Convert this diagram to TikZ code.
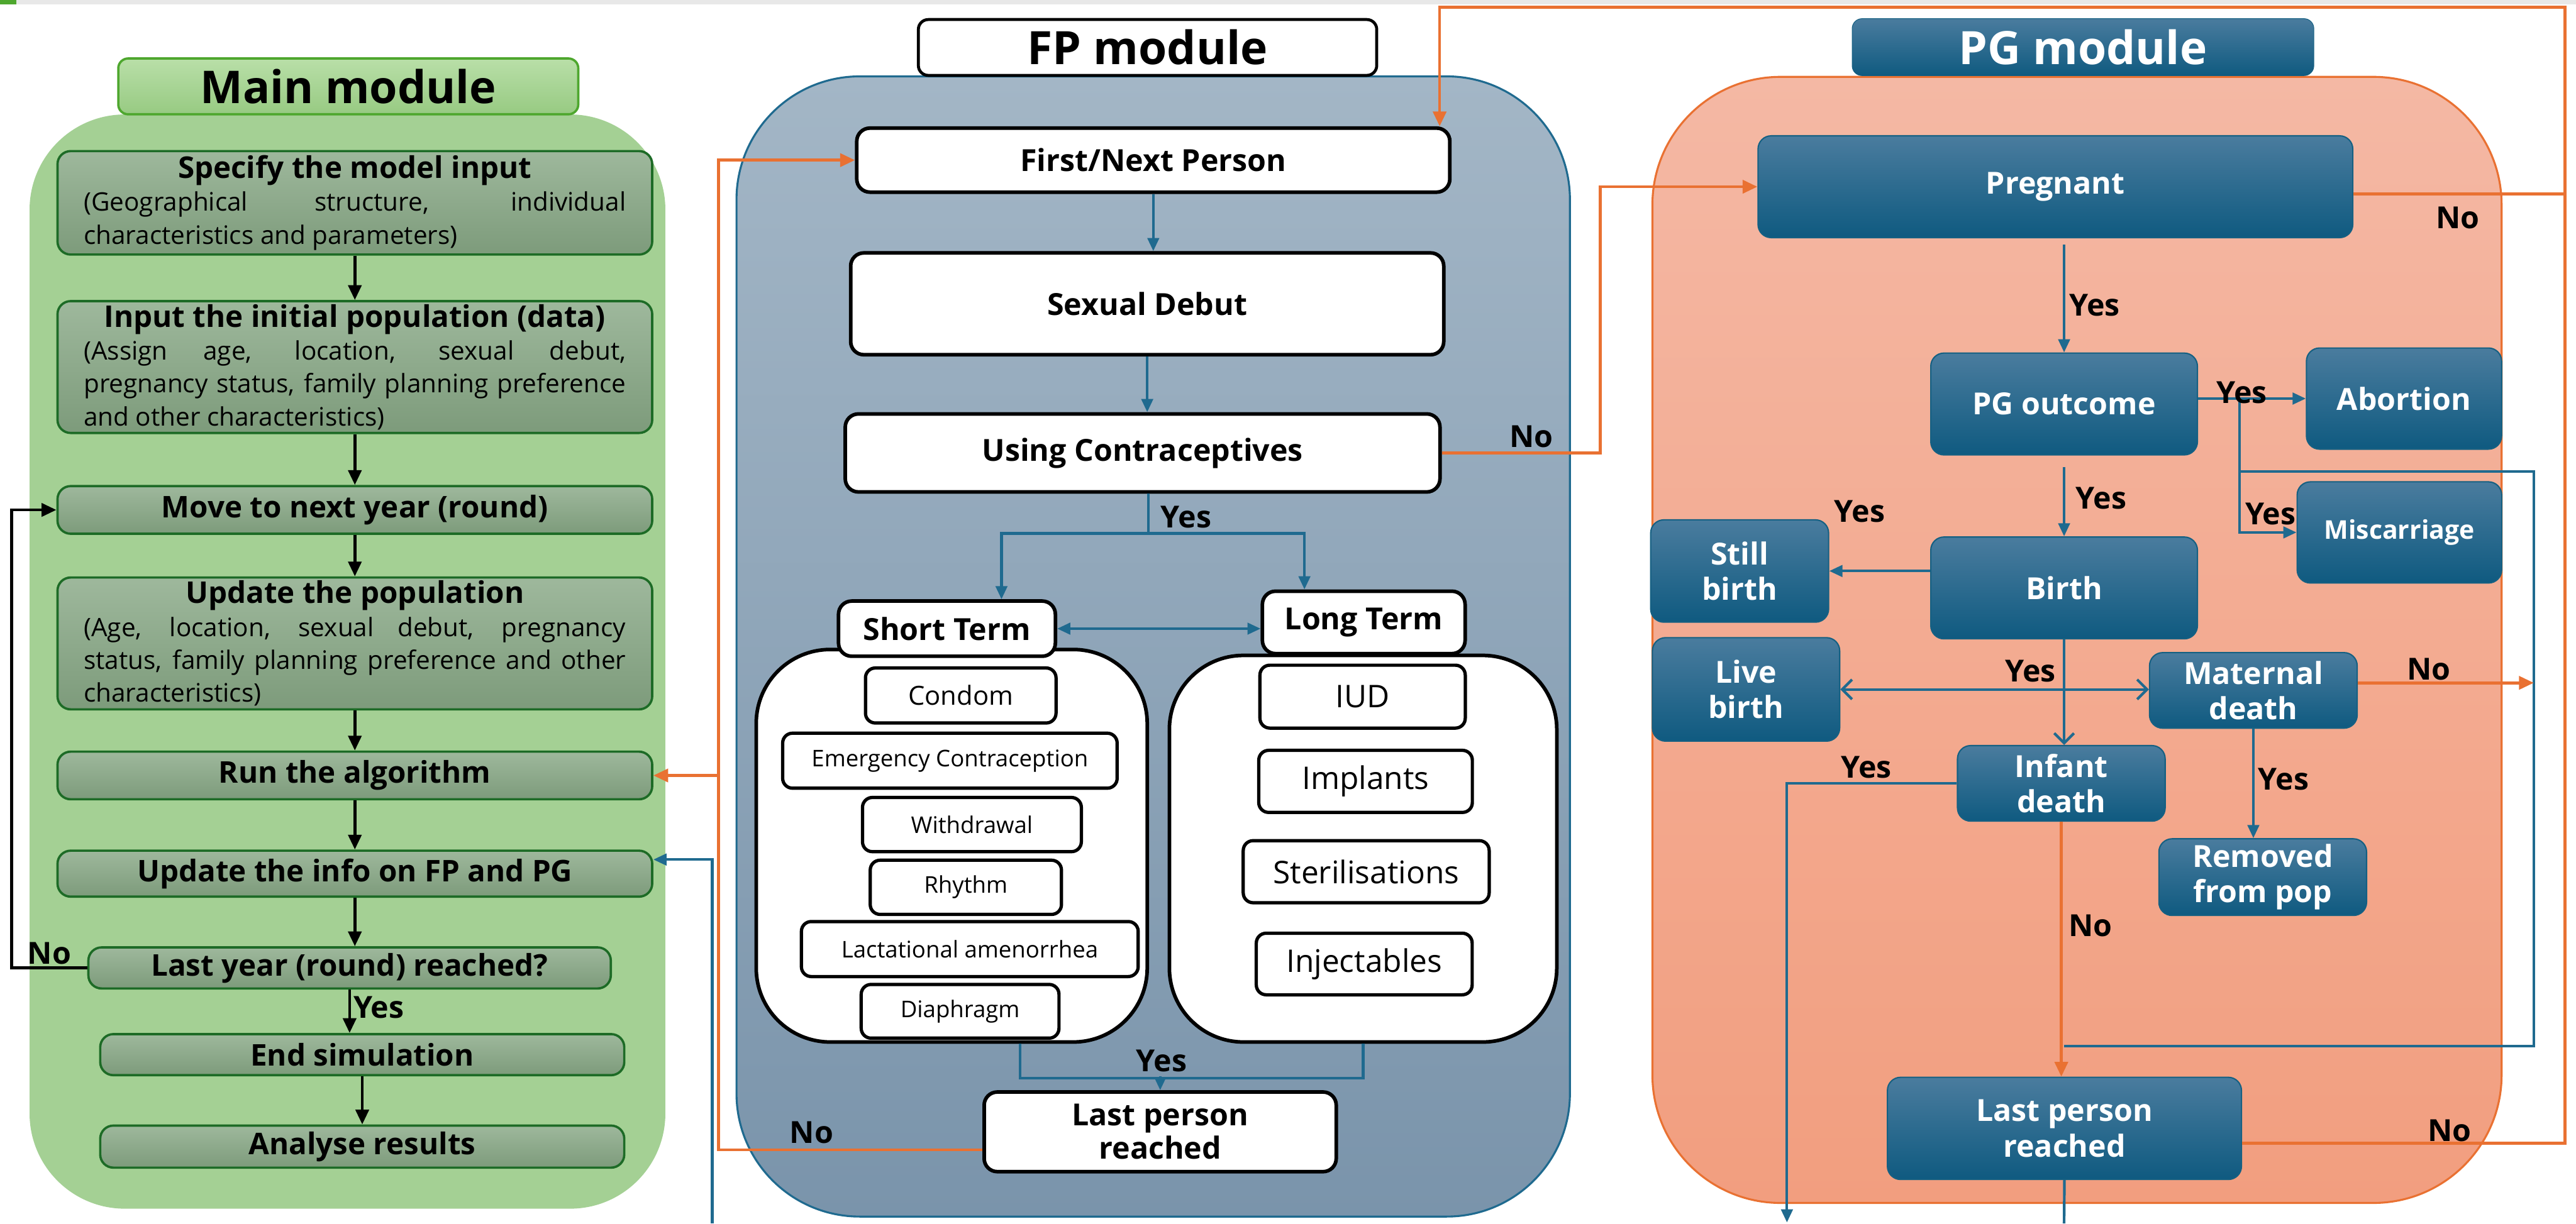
\documentclass[tikz,border=0pt]{standalone}
\usepackage{fontspec}
\setmainfont{Open Sans}
\usetikzlibrary{arrows.meta}

\definecolor{mainfill}{HTML}{A4D094}
\definecolor{mtitletop}{HTML}{B9DFA8}
\definecolor{mtitlebot}{HTML}{97CA82}
\definecolor{mainedge}{HTML}{4EA72E}
\definecolor{boxtop}{HTML}{9EB89C}
\definecolor{boxbot}{HTML}{7D9B7B}
\definecolor{boxedge}{HTML}{1D6B26}
\definecolor{fptop}{HTML}{A3B6C6}
\definecolor{fpbot}{HTML}{7A94AB}
\definecolor{pgblue}{HTML}{156082}
\definecolor{pgbluetop}{HTML}{4A7C9E}
\definecolor{pgbluebot}{HTML}{0F5A80}
\definecolor{pgtop}{HTML}{F4B8A4}
\definecolor{pgbot}{HTML}{F29E7F}
\definecolor{orng}{HTML}{E97132}
\definecolor{blline}{HTML}{1F6A8F}

\newcommand{\headfnt}{\fontsize{18.2}{20}\selectfont\bfseries}
\newcommand{\bodyfnt}{\fontsize{15.5}{18}\selectfont\mdseries}

\begin{document}
\begin{tikzpicture}[x=1pt, y=-1pt,
  mtitlebox/.style={draw=mainedge, line width=1.4pt, rounded corners=6pt, top color=mtitletop, bottom color=mtitlebot, minimum width=280pt, minimum height=34pt, font=\fontsize{27.5}{30}\selectfont\bfseries},
  mainbox/.style={draw=boxedge, line width=1.4pt, rounded corners=8pt, top color=boxtop, bottom color=boxbot, minimum width=362pt, inner sep=2pt, font=\headfnt},
  mainpara/.style={mainbox, text width=330pt, inner xsep=16pt, align=justify},
  fptitlebox/.style={draw=black, fill=white, line width=1.8pt, rounded corners=6pt, minimum width=279pt, minimum height=34pt, font=\fontsize{28}{30}\selectfont\bfseries},
  fpbox/.style={draw=black, fill=white, line width=2.2pt, rounded corners=8pt, font=\fontsize{18.5}{20.3}\selectfont\bfseries, align=center},
  grpbox/.style={draw=black, fill=white, line width=2.2pt, rounded corners=45pt},
  itembox/.style={draw=black, fill=white, line width=2pt, rounded corners=6pt, font=\fontsize{14}{16}\selectfont},
  pgtitlebox/.style={draw=pgblue, top color=pgbluetop, bottom color=pgbluebot, rounded corners=6pt, minimum width=281pt, minimum height=34.7pt, text=white, font=\fontsize{28}{30}\selectfont\bfseries},
  pgbox/.style={draw=pgblue, line width=0.8pt, top color=pgbluetop, bottom color=pgbluebot, rounded corners=8pt, text=white, font=\fontsize{18.5}{21.5}\selectfont\bfseries, align=center},
  lbl/.style={font=\fontsize{18.5}{20}\selectfont\bfseries, inner sep=0pt},
  blkarrow/.style={draw=black, line width=1.8pt, -{Triangle[length=9pt,width=8pt]}},
  bluline/.style={draw=blline, line width=1.6pt},
  bluarrow/.style={bluline, -{Triangle[length=8pt,width=7pt]}},
  bluboth/.style={bluline, {Triangle[length=8pt,width=7pt]}-{Triangle[length=8pt,width=7pt]}},
  openarrow/.style={bluline, -{Straight Barb[length=6pt,width=12pt]}},
  openboth/.style={bluline, {Straight Barb[length=6pt,width=12pt]}-{Straight Barb[length=6pt,width=12pt]}},
  orpath/.style={draw=orng, line width=1.8pt},
  orarrow/.style={orpath, -{Triangle[length=9pt,width=8pt]}}]
\useasboundingbox (0,0) rectangle (1568,745);
\fill[gray!18] (0,0) rectangle (1568,2.6);
\fill[mainedge] (0,0) rectangle (10,2.6);

% Main module
\fill[mainfill, rounded corners=58pt] (18,69.7) rectangle (405,736);
\node[mtitlebox] (mtitle) at (212,52.6) {Main module};
\node[mainpara, minimum height=63pt] (spec) at (216,123.5) {{\centering\headfnt Specify the model input\par}\bodyfnt (Geographical structure, individual\linebreak characteristics and parameters)};
\node[mainpara, minimum height=77pt] (init) at (216,223.5) {{\centering\headfnt Input the initial population (data)\par}\bodyfnt (Assign age, location, sexual debut,\linebreak pregnancy status, family planning preference\linebreak and other characteristics)};
\node[mainbox, minimum height=29pt] (move) at (216,310.5) {Move to next year (round)};
\node[mainpara, minimum height=76pt] (upd) at (216,391.8) {{\centering\headfnt Update the population\par}\bodyfnt (Age, location, sexual debut, pregnancy\linebreak status, family planning preference and other\linebreak characteristics)};
\node[mainbox, minimum height=29pt] (run) at (216,472.2) {Run the algorithm};
\node[mainbox, minimum height=28pt] (info) at (216,532) {Update the info on FP and PG};
\node[mainbox, minimum width=318pt, minimum height=25pt] (last) at (212.8,589.4) {Last year (round) reached?};
\node[mainbox, minimum width=319pt, minimum height=25pt] (endsim) at (220.5,642.2) {End simulation};
\node[mainbox, minimum width=319pt, minimum height=25.6pt] (analyse) at (220.5,698.2) {Analyse results};

\foreach \a/\b in {spec/init, init/move, move/upd, upd/run, run/info, info/last, last/endsim, endsim/analyse}
  \draw[blkarrow] (\a.south) -- (\a.south |- \b.north);
\coordinate (mloop) at (7,310.5);
\draw[blkarrow] (last.west) -| (mloop) -- (move.west);
\node[lbl] (nlast) at (30,580.5) {No};
\node[lbl, anchor=west] (ylast) at (215,613.5) {Yes};

% FP module
\draw[top color=fptop, bottom color=fpbot, draw=blline, line width=1.2pt, rounded corners=75pt] (448.3,46.5) rectangle (955.6,740.8);
\node[fptitlebox] (fptitle) at (698.5,28.9) {FP module};
\node[fpbox, minimum width=361pt, minimum height=39pt] (first) at (702,97.5) {First/Next Person};
\node[fpbox, minimum width=361pt, minimum height=62pt] (debut) at (698.3,185) {Sexual Debut};
\node[fpbox, minimum width=362pt, minimum height=47.5pt] (usec) at (695.5,275.8) {Using Contraceptives};
\node[grpbox, minimum width=238pt, minimum height=239pt] (shortgrp) at (579.3,515) {};
\node[grpbox, minimum width=235.8pt, minimum height=235.4pt] (longgrp) at (829.7,516.8) {};
\node[fpbox, minimum width=132pt, minimum height=33.6pt] (shortt) at (576.4,382.8) {Short Term};
\node[fpbox, minimum width=123.4pt, minimum height=38pt] (longt) at (830.1,379) {Long Term};
\node[itembox, minimum width=116pt, minimum height=33.5pt, font=\fontsize{16}{18}\selectfont] (condom) at (584.8,423.5) {Condom};
\node[itembox, minimum width=203.6pt, minimum height=33.5pt] (emerg) at (578.2,463.2) {Emergency Contraception};
\node[itembox, minimum width=133.2pt, minimum height=33pt] (withd) at (591.6,502.1) {Withdrawal};
\node[itembox, minimum width=116.4pt, minimum height=33pt] (rhythm) at (587.9,540.3) {Rhythm};
\node[itembox, minimum width=205pt, minimum height=33.5pt] (lact) at (590.3,577.9) {Lactational amenorrhea};
\node[itembox, minimum width=120.4pt, minimum height=32.7pt] (diaph) at (584.4,615.8) {Diaphragm};
\node[itembox, minimum width=125pt, minimum height=38.3pt, font=\fontsize{19}{21}\selectfont] (iud) at (829.4,424.2) {IUD};
\node[itembox, minimum width=130pt, minimum height=37.8pt, font=\fontsize{19}{21}\selectfont] (implants) at (831.2,475.8) {Implants};
\node[itembox, minimum width=149.7pt, minimum height=37.8pt, font=\fontsize{19}{21}\selectfont] (steril) at (831.6,530.8) {Sterilisations};
\node[itembox, minimum width=131.4pt, minimum height=37.5pt, font=\fontsize{19}{21}\selectfont] (inject) at (830.4,587) {Injectables};
\node[fpbox, minimum width=214.3pt, minimum height=48.5pt] (fplast) at (706.2,689.2) {Last person\\reached};

\draw[bluarrow] (first.south) -- (first.south |- debut.north);
\draw[bluarrow] (debut.south) -- (debut.south |- usec.north);
\coordinate (fpsplit) at (699,324.8);
\draw[bluline] (usec.south -| fpsplit) -- (fpsplit);
\draw[bluarrow] (fpsplit) -| ([xshift=33.2pt]shortt.north);
\draw[bluarrow] (fpsplit) -| ([xshift=-36.1pt]longt.north);
\draw[bluboth] (shortt.east) -- (shortt.east -| longt.west);
\coordinate (fpjoin) at (706.2,655.3);
\draw[bluline] ([xshift=41.6pt]shortgrp.south) -- ++(0,20.8) -| (longgrp.south);
\draw[bluarrow] (fpjoin) -- (fplast.north);
\node[lbl] (yfp) at (707,646) {Yes};
\node[lbl] (yuse) at (722,315) {Yes};

\coordinate (fpback) at (437.3,97.5);
\coordinate (fprun) at (437.3,472.2);
\draw[orarrow] ([yshift=-11pt]fplast.west) -| (fpback) -- (first.west);
\draw[orarrow] (fprun) -- (run.east);
\node[lbl] (nfp) at (494,689.5) {No};
\coordinate (retbot) at (433.5,745);
\coordinate (retup) at (433.5,523.4);
\draw[bluarrow] (retbot) -- (retup) -- (info.east |- retup);

% PG module
\draw[top color=pgtop, bottom color=pgbot, draw=orng, line width=1.2pt, rounded corners=78pt] (1005.8,46.8) rectangle (1522.7,732.5);
\node[pgtitlebox] (pgtitle) at (1267.9,28.7) {PG module};
\node[pgbox, minimum width=362pt, minimum height=62pt] (preg) at (1251.1,113.7) {Pregnant};
\node[pgbox, minimum width=162.3pt, minimum height=62pt] (pgout) at (1256.4,246) {PG outcome};
\node[pgbox, minimum width=118.8pt, minimum height=61.6pt] (abort) at (1463.3,242.7) {Abortion};
\node[pgbox, minimum width=124.5pt, minimum height=61.6pt, font=\fontsize{15.7}{18}\selectfont\bfseries] (misc) at (1460.5,324.2) {Miscarriage};
\node[pgbox, minimum width=162.3pt, minimum height=62pt] (birth) at (1256.4,358) {Birth};
\node[pgbox, minimum width=108.3pt, minimum height=62.3pt] (still) at (1058.9,347.7) {Still\\birth};
\node[pgbox, minimum width=114pt, minimum height=63pt] (live) at (1062.8,419.8) {Live\\birth};
\node[pgbox, minimum width=126.4pt, minimum height=46pt] (matd) at (1371.6,420.4) {Maternal\\death};
\node[pgbox, minimum width=126.4pt, minimum height=46pt] (infd) at (1254.7,477) {Infant\\death};
\node[pgbox, minimum width=126.4pt, minimum height=45.4pt] (remv) at (1377.3,534.1) {Removed\\from pop};
\node[pgbox, minimum width=215.5pt, minimum height=62.2pt] (pglast) at (1256.6,687.1) {Last person\\reached};

\draw[bluarrow] ([yshift=-4pt]preg.south -| pgout.north) -- (pgout.north);
\draw[bluarrow] (pgout.east |- abort.west) -- (abort.west);
\coordinate (pgsplit) at (1363.1,242.7);
\draw[bluarrow] (pgsplit) |- (misc.west);
\coordinate (pgmerge) at (1363.1,287);
\coordinate (pgright) at (1542.3,287);
\coordinate (pgjoin) at (1256.4,636.9);
\draw[bluline] (pgmerge) -- (pgright) |- (pgjoin);
\draw[bluarrow] ([yshift=-7pt]pgout.south) -- (birth.north);
\draw[bluarrow] (birth.west |- still.east) -- (still.east);
\draw[openarrow] (birth.south) -- (birth.south |- infd.north);
\draw[openboth] (live.east) -- (live.east -| matd.west);
\draw[bluarrow] (matd.south) -- (matd.south |- remv.north);
\coordinate (matno) at (1542.3,415.8);
\draw[orarrow] (matd.east |- matno) -- (matno);
\coordinate (infout) at (1087.7,744.4);
\draw[bluarrow] (infd.west) -| (infout);
\draw[orarrow] (infd.south) -- (infd.south |- pglast.north);
\coordinate (pgbot) at (1256.4,745);
\draw[bluline] (pglast.south) -- (pgbot);

\coordinate (fpnoup) at (974,113.7);
\draw[orarrow] (usec.east) -| (fpnoup) -- (preg.west);
\coordinate (topR) at (1561.2,4.3);
\draw[orarrow] ([yshift=-4.4pt]preg.east) -| (topR) -| ([xshift=-7.3pt]first.north east);
\draw[orpath] ([yshift=-9pt]pglast.east) -| (topR);

\node[lbl] (nuse) at (932,265.7) {No};
\node[lbl] (ypreg) at (1275,186) {Yes};
\node[lbl] (npreg) at (1496,132.7) {No};
\node[lbl] (yabort) at (1364.5,239) {Yes};
\node[lbl] (ymisc) at (1382,313) {Yes};
\node[lbl] (ybirth) at (1279,303.5) {Yes};
\node[lbl] (ystill) at (1132,311.3) {Yes};
\node[lbl] (ylive) at (1236,408.6) {Yes};
\node[lbl] (nmat) at (1478.5,407.4) {No};
\node[lbl] (ymat) at (1390,474.4) {Yes};
\node[lbl] (yinf) at (1136,467.2) {Yes};
\node[lbl] (ninf) at (1272.5,563.5) {No};
\node[lbl] (npg) at (1491,688.3) {No};
\end{tikzpicture}
\end{document}
